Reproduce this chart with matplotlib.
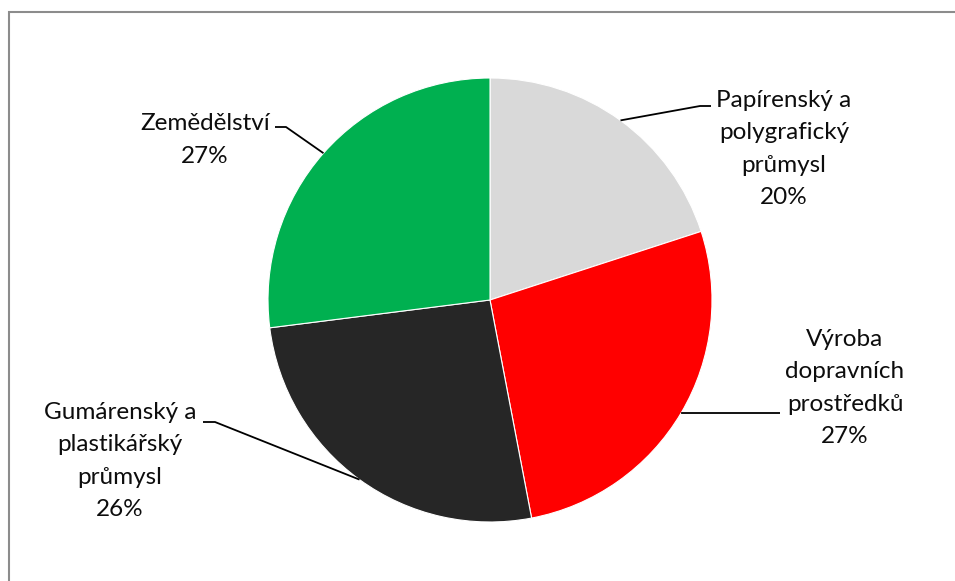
import numpy as np
import matplotlib.pyplot as plt
from matplotlib.patches import Rectangle

categories = ["Papírenský a\npolygrafický\nprůmysl", "Výroba\ndopravních\nprostředků",
              "Gumárenský a\nplastikářský\nprůmysl", "Zemědělství"]
shares = [20, 27, 26, 27]
colors = ["#d9d9d9", "#ff0000", "#262626", "#00b050"]

# label placement: (text centre x, text centre y, elbow x, elbow y, tail x) in pixels
label_pos = [(784, 149, 700, 106, 711),
             (845, 388, 780, 413, 780),
             (120, 461, 215, 422, 203),
             (205, 140, 286, 127, 275)]

W, H = 955, 581
cx, cy, r = 490, 300, 222

plt.rcParams['font.family'] = ['Lato', 'DejaVu Sans']

fig = plt.figure(figsize=(W / 100, H / 100), dpi=100)
ax = fig.add_axes([0, 0, 1, 1])

wedges, _ = ax.pie(shares, colors=colors, startangle=90, counterclock=False,
                   center=(cx, H - cy), radius=r, frame=True,
                   wedgeprops=dict(edgecolor="white", linewidth=0.8))
ax.set_xlim(0, W)
ax.set_ylim(0, H)
ax.set_aspect('equal')
ax.axis('off')

# chart frame (only top and left edges fall inside the image)
ax.add_patch(Rectangle((9, -20), W + 20, H - 12 + 20, fill=False,
                       edgecolor="#8c8c8c", linewidth=1.5, clip_on=False))

for w, name, val, (tx, ty, ex, ey, hx) in zip(wedges, categories, shares, label_pos):
    mid = np.deg2rad((w.theta1 + w.theta2) / 2)
    px = cx + r * np.cos(mid)
    py = (H - cy) + r * np.sin(mid)
    ax.plot([px, ex, hx], [py, H - ey, H - ey], color="black", lw=1.3,
            solid_capstyle='butt')
    ax.text(tx, H - ty, f"{name}\n{val}%", ha="center", va="center",
            fontsize=17.5, linespacing=1.65, color="#0d0d0d")

fig.savefig("out.png", dpi=100)
